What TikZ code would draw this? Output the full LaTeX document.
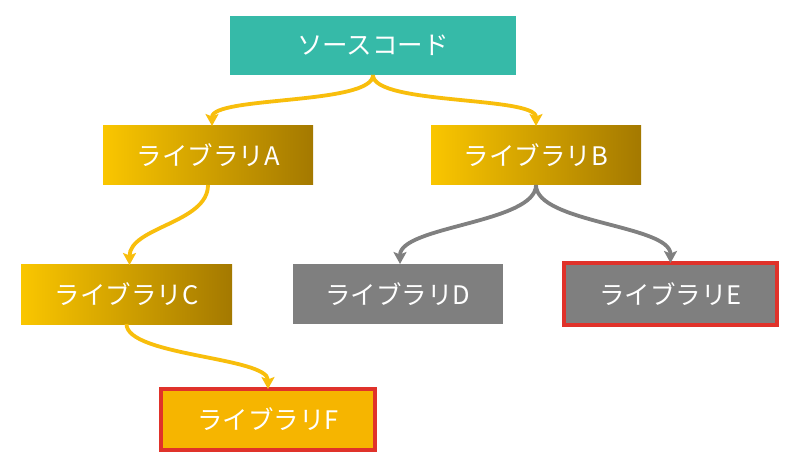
\documentclass[tikz,border=0pt]{standalone}
\usepackage{fontspec}
\newfontfamily\jpfont{Noto Sans CJK JP}
\usetikzlibrary{arrows.meta}
\definecolor{tealbox}{HTML}{36BAA8}
\definecolor{gradL}{HTML}{FAC600}
\definecolor{gradR}{HTML}{A47900}
\definecolor{graybox}{HTML}{7F7F7F}
\definecolor{redline}{HTML}{E0322A}
\definecolor{fbox}{HTML}{F6B500}
\definecolor{yarrow}{HTML}{F8BE0C}
\definecolor{garrow}{HTML}{808080}
\begin{document}
\begin{tikzpicture}[x=1pt,y=-1pt,
  box/.style={rectangle, inner sep=0pt, outer sep=0pt, text=white,
    font=\jpfont\fontsize{25.5}{29}\selectfont},
  gradbox/.style={box, left color=gradL, right color=gradR,
    minimum width=210pt, minimum height=59pt},
  greybox/.style={box, fill=graybox, minimum width=210pt, minimum height=60pt},
  redframe/.style={draw=redline, line width=4pt},
  yconn/.style={draw=yarrow, line width=3.8pt,
    -{Stealth[length=12pt,width=13pt,inset=2.5pt]}},
  gconn/.style={draw=garrow, line width=3.8pt,
    -{Stealth[length=12pt,width=13pt,inset=2.5pt]}}]
\useasboundingbox (0,0) rectangle (800,470);
\fill[white] (0,0) rectangle (800,470);

\node[box, fill=tealbox, minimum width=286pt, minimum height=59pt] (src) at (373,45.5) {ソースコード};
\node[gradbox] (A) at (208,155.5) {ライブラリA};
\node[gradbox] (B) at (536,155.5) {ライブラリB};
\node[gradbox, minimum width=211pt] (C) at (126.5,294.5) {ライブラリC};
\node[greybox] (D) at (398,294) {ライブラリD};
\node[greybox, redframe, minimum width=213pt, minimum height=62pt] (E) at (670.5,294) {ライブラリE};
\node[box, fill=fbox, redframe, minimum width=214pt, minimum height=61pt] (F) at (268,419.5) {ライブラリF};

\draw[yconn] (src.south) .. controls +(0,30) and +(0,-30) .. ([xshift=4pt]A.north);
\draw[yconn] (src.south) .. controls +(0,30) and +(0,-30) .. (B.north);
\draw[yconn] (A.south) .. controls +(0,38) and +(0,-38) .. ([xshift=3pt]C.north);
\draw[yconn] (C.south) .. controls +(0,32) and +(0,-32) .. (F.north);
\draw[gconn] (B.south) .. controls +(0,38) and +(0,-38) .. ([xshift=2pt]D.north);
\draw[gconn] (B.south) .. controls +(0,38) and +(0,-38) .. (E.north);
\end{tikzpicture}
\end{document}
